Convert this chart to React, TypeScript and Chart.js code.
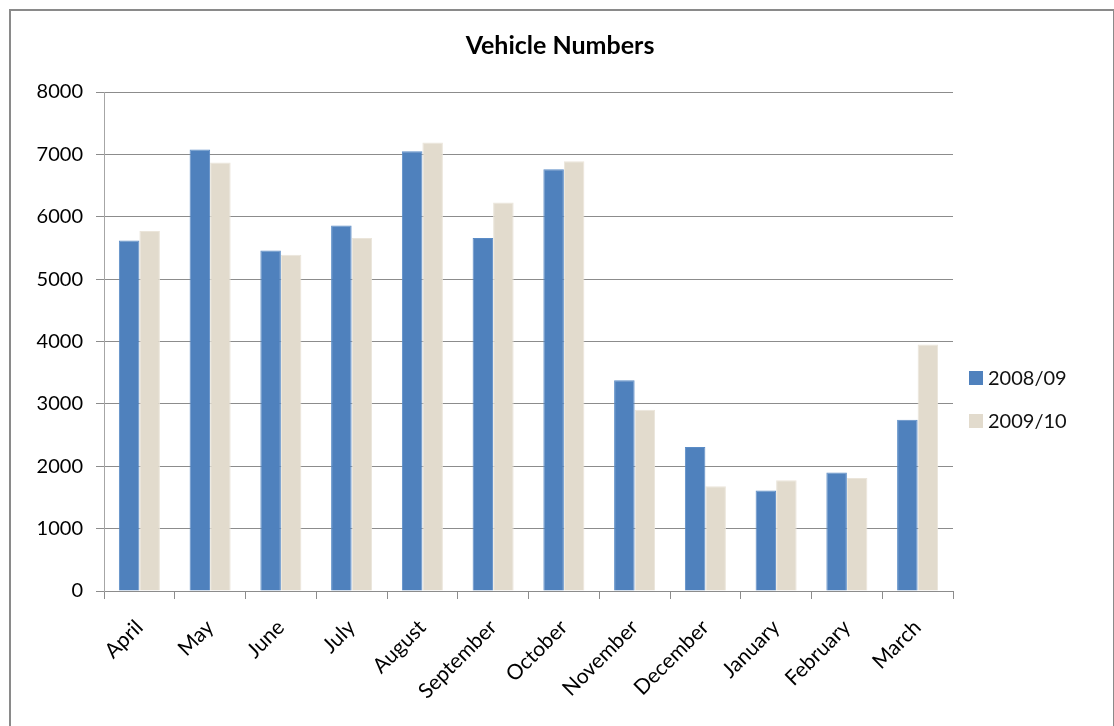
import React, { useEffect, useRef } from "react";
import { Chart, registerables } from "chart.js";

Chart.register(...registerables);

const categories = [
  "April", "May", "June", "July", "August", "September",
  "October", "November", "December", "January", "February", "March",
];
const series0809 = [5620, 7080, 5460, 5860, 7050, 5660, 6760, 3380, 2310, 1610, 1900, 2745];
const series0910 = [5770, 6870, 5390, 5660, 7190, 6230, 6890, 2905, 1680, 1775, 1810, 3950];
const seriesLabels = ["2008/09", "2009/10"];
const seriesColors = ["#4f81bd", "#e2dbcd"];
const seriesBorders = ["#5b8cc6", "#ebe5da"];
const chartTitle = "Vehicle Numbers";
const yMin = 0;
const yMax = 8000;
const yStep = 1000;

const FONT = "Lato, 'Open Sans', sans-serif";

const decorPlugin = {
  id: "decor",
  afterDraw(chart: any) {
    const { ctx, chartArea, width } = chart;
    ctx.save();
    // title
    ctx.font = `bold 25px ${FONT}`;
    ctx.fillStyle = "#000";
    ctx.textAlign = "center";
    ctx.textBaseline = "middle";
    ctx.fillText(chartTitle, width / 2 + 3, 46);
    // legend
    const x0 = chartArea.right + 16;
    const firstY = 378;
    const gap = 43;
    ctx.font = `20px ${FONT}`;
    ctx.textAlign = "left";
    chart.data.datasets.forEach((ds: any, i: number) => {
      const cy = firstY + i * gap;
      ctx.fillStyle = ds.backgroundColor;
      ctx.fillRect(x0, cy - 7, 14, 14);
      ctx.fillStyle = "#111";
      ctx.fillText(ds.label, x0 + 19, cy + 1);
    });
    ctx.restore();
  },
};

export default function App() {
  const canvasRef = useRef<HTMLCanvasElement | null>(null);

  useEffect(() => {
    if (!canvasRef.current) return;
    const chart = new Chart(canvasRef.current, {
      type: "bar",
      data: {
        labels: categories,
        datasets: [
          {
            label: seriesLabels[0],
            data: series0809,
            backgroundColor: seriesColors[0],
            borderColor: seriesBorders[0],
            borderWidth: 1,
          },
          {
            label: seriesLabels[1],
            data: series0910,
            backgroundColor: seriesColors[1],
            borderColor: seriesBorders[1],
            borderWidth: 1,
          },
        ],
      },
      options: {
        animation: false,
        responsive: true,
        maintainAspectRatio: false,
        datasets: { bar: { barPercentage: 1, categoryPercentage: 0.58 } },
        layout: { padding: { left: 0, right: 161, top: 92, bottom: 0 } },
        plugins: {
          legend: { display: false },
          tooltip: { enabled: false },
          title: { display: false },
        },
        scales: {
          x: {
            offset: true,
            grid: {
              display: true,
              offset: true,
              drawOnChartArea: false,
              drawTicks: true,
              tickLength: 8,
              color: "#8c8c8c",
            },
            border: { display: true, color: "#8c8c8c" },
            ticks: {
              autoSkip: false,
              maxRotation: 45,
              minRotation: 45,
              padding: 16,
              color: "#000",
              font: { family: FONT, size: 21 },
            },
            afterFit: (scale: any) => {
              scale.height = 135;
            },
          },
          y: {
            min: yMin,
            max: yMax,
            grid: {
              color: "#8c8c8c",
              drawTicks: true,
              tickLength: 8,
            },
            border: { display: true, color: "#a6a6a6" },
            ticks: {
              stepSize: yStep,
              padding: 13,
              color: "#000",
              font: { family: FONT, size: 20 },
              callback: (v: any) => String(v),
            },
            afterFit: (scale: any) => {
              scale.width = 104;
            },
          },
        },
      },
      plugins: [decorPlugin],
    });
    return () => chart.destroy();
  }, []);

  return (
    <div
      style={{
        position: "fixed",
        left: 0,
        top: 0,
        width: 1114,
        height: 726,
        overflow: "hidden",
        background: "#fff",
      }}
    >
      <div
        style={{
          position: "absolute",
          left: 9,
          top: 9,
          width: 1102,
          height: 800,
          border: "2px solid #8a8a8a",
        }}
      />
      <div style={{ position: "absolute", left: 0, top: 0, width: 1114, height: 726 }}>
        <canvas ref={canvasRef} />
      </div>
    </div>
  );
}
